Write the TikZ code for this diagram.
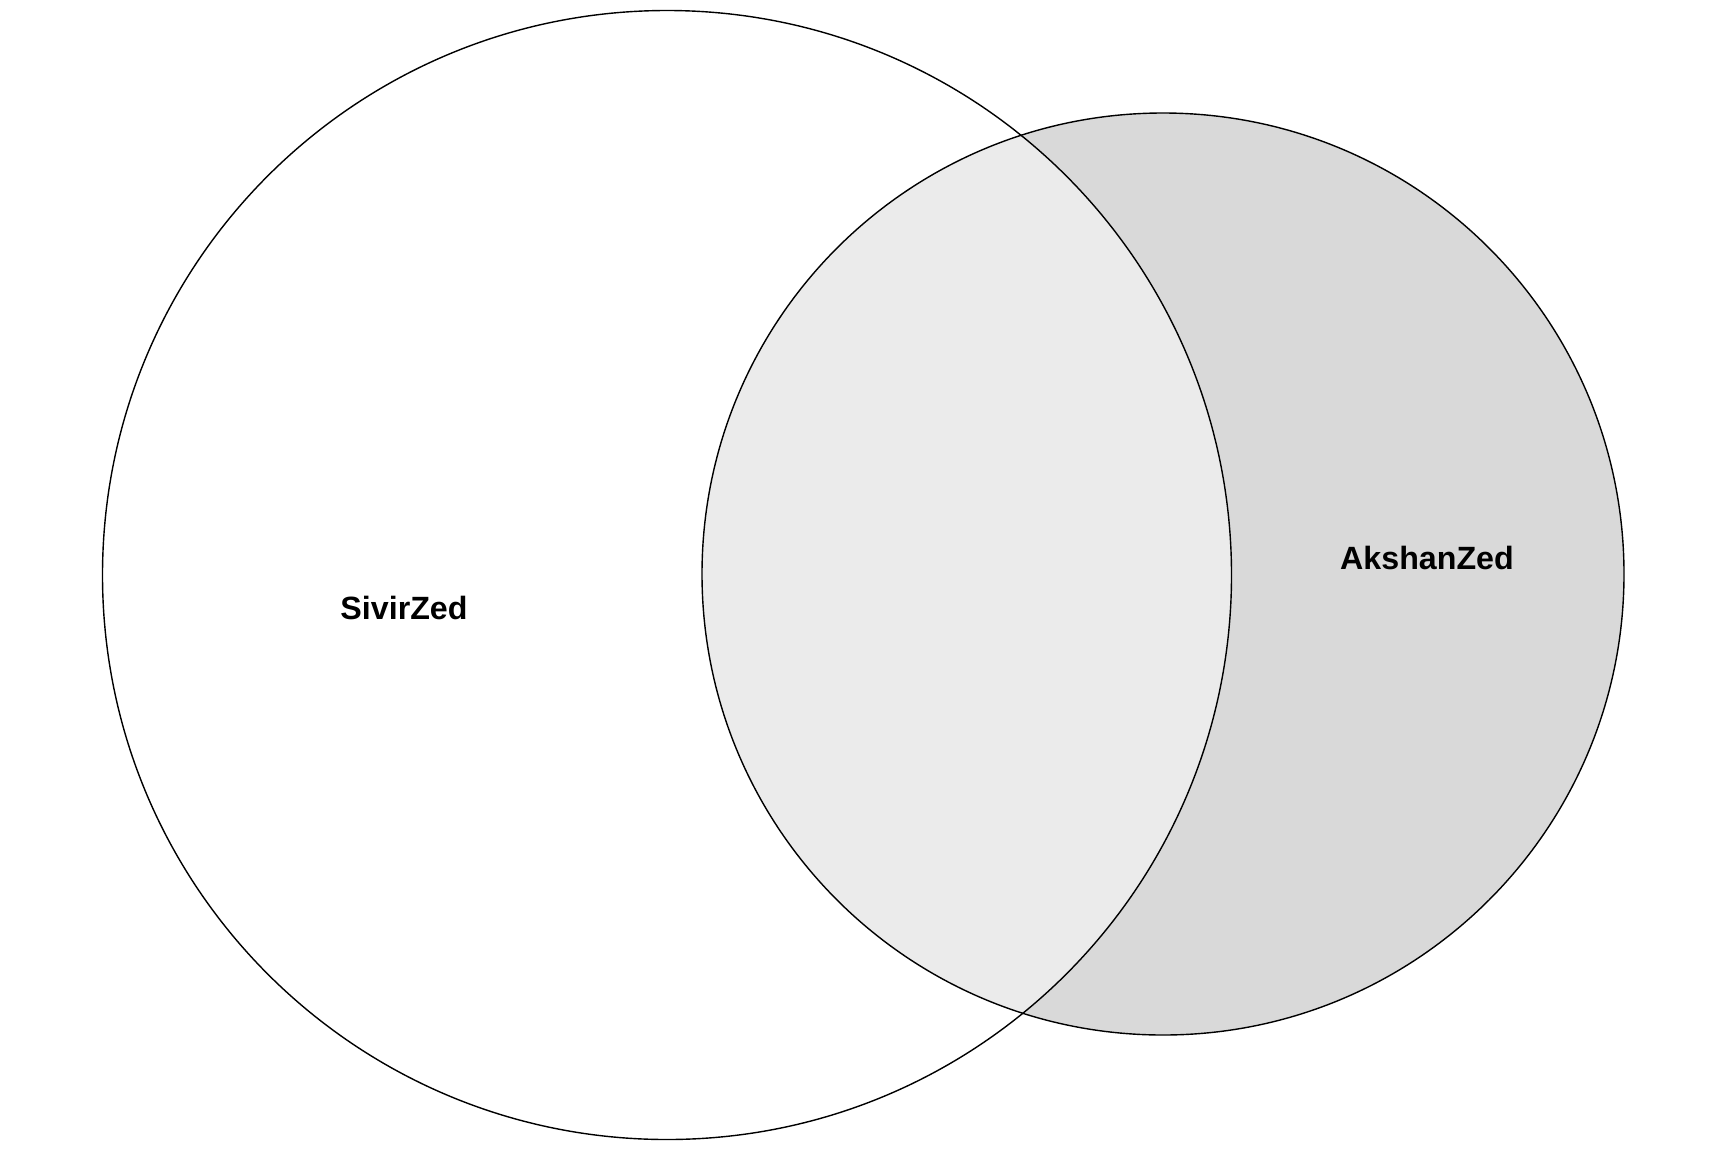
\documentclass[tikz,border=0pt]{standalone}
\usepackage{fontspec}
\setmainfont{Liberation Sans}
\definecolor{rightfill}{HTML}{D9D9D9}
\definecolor{interfill}{HTML}{EBEBEB}
\begin{document}
\begin{tikzpicture}[x=1pt,y=-1pt,
  setline/.style={draw=black,line width=1.4pt},
  setlabel/.style={font=\fontsize{32.2}{36}\selectfont\bfseries,anchor=base,inner sep=0pt}]
\useasboundingbox (0,0) rectangle (1728,1152);
\fill[white] (0,0) rectangle (1728,1152);
\coordinate (cl) at (667,575);
\coordinate (cr) at (1163,574);
\fill[rightfill] (cr) circle[radius=461];
\begin{scope}
  \clip (cl) circle[radius=564.5];
  \fill[interfill] (cr) circle[radius=461];
\end{scope}
\draw[setline] (cl) circle[radius=564.5];
\draw[setline] (cr) circle[radius=461];
\node[setlabel] (sivir) at (404,619) {SivirZed};
\node[setlabel] (akshan) at (1427,569) {AkshanZed};
\end{tikzpicture}
\end{document}
